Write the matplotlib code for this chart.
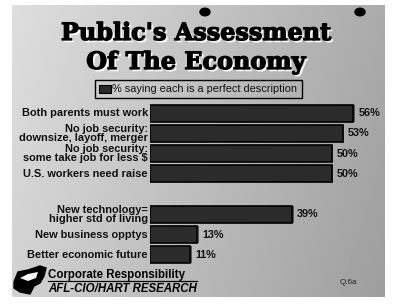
import numpy as np
import matplotlib
matplotlib.use("Agg")
import matplotlib.pyplot as plt
import matplotlib.patheffects as pe
from matplotlib.patches import Rectangle, Polygon

# data
categories = ["Both parents must work",
              "No job security:\ndownsize, layoff, merger",
              "No job security:\nsome take job for less $",
              "U.S. workers need raise",
              "New technology=\nhigher std of living",
              "New business opptys",
              "Better economic future"]
values = [56, 53, 50, 50, 39, 13, 11]
positions = [0, 1, 2, 3, 5, 6, 7]
value_labels = ["56%", "53%", "50%", "50%", "39%", "13%", "11%"]

W, H = 400, 304
fig = plt.figure(figsize=(W / 100, H / 100), dpi=100)
fig.patch.set_facecolor("white")

# gray panel with gradient
bg = fig.add_axes([12 / W, 1 - 297 / H, (385 - 12) / W, (297 - 5) / H])
gx = np.linspace(0, 1, 200)
gy = np.linspace(0, 1, 150)
GX, GY = np.meshgrid(gx, gy)
shade = 0.87 - 0.2 * GX - 0.05 * GY
bg.imshow(shade, cmap="gray", vmin=0, vmax=1, aspect="auto", extent=[0, 1, 1, 0])
bg.set_axis_off()

# hole punches
fig.patches.append(plt.Circle((205 / W, 1 - 12 / H), 5 / W, transform=fig.transFigure,
                              color="black", zorder=5))
fig.patches.append(plt.Circle((360 / W, 1 - 12 / H), 5 / W, transform=fig.transFigure,
                              color="black", zorder=5))

# title, heavy with a white drop shadow
shadow = [pe.SimplePatchShadow(offset=(1.6, -1.6), shadow_rgbFace="white", alpha=1.0),
          pe.withStroke(linewidth=0.9, foreground="black")]
fig.text(196 / W, 1 - 33 / H, "Public's Assessment", ha="center", va="center",
         fontsize=17.2, fontweight="bold", family="DejaVu Serif", path_effects=shadow)
fig.text(196 / W, 1 - 62 / H, "Of The Economy", ha="center", va="center",
         fontsize=17.2, fontweight="bold", family="DejaVu Serif", path_effects=shadow)

# legend box
fig.patches.append(Rectangle((95 / W, 1 - 98 / H), (302 - 95) / W, 18 / H,
                             transform=fig.transFigure, facecolor="none",
                             edgecolor="black", linewidth=1))
fig.patches.append(Rectangle((99 / W, 1 - 93 / H), 12 / W, 8 / H,
                             transform=fig.transFigure, facecolor="#2a2a2a",
                             edgecolor="black", linewidth=0.8))
fig.text(112 / W, 1 - 89 / H, "% saying each is a perfect description", ha="left",
         va="center", fontsize=7.9, family="Liberation Sans", color="#111111")

# bars
ax = fig.add_axes([150 / W, 1 - 265.1 / H, (368 - 150) / W, (265.1 - 102.9) / H])
ax.set_xlim(0, 60)
ax.set_ylim(7.5, -0.5)
ax.set_facecolor("none")
for s in ax.spines.values():
    s.set_visible(False)
ax.set_xticks([])
ax.set_yticks([])

# bevel/shadow behind bars
ax.barh(positions, values, height=0.84, left=0.5, color="#555555", edgecolor="none")
ax.barh(positions, values, height=0.84, color="#2b2b2b", edgecolor="black", linewidth=1.2)

for p, v, lab, cat in zip(positions, values, value_labels, categories):
    ax.text(v + 1.5, p, lab, ha="left", va="center", fontsize=7.8,
            fontweight="bold", family="Liberation Sans", color="#111111")
    ax.text(-0.6, p, cat, ha="right", va="center", fontsize=7.9, fontweight="bold",
            family="Liberation Sans", color="#111111", linespacing=0.82)

# footer logo (rough map silhouette)
logo = [(14, 282), (18, 272), (28, 270), (40, 266), (46, 268), (44, 276), (40, 283),
        (34, 286), (30, 294), (20, 292), (14, 288)]
fig.patches.append(Polygon([(x / W, 1 - y / H) for x, y in logo], closed=True,
                           transform=fig.transFigure, facecolor="black", edgecolor="black"))
fig.patches.append(Polygon([(x / W, 1 - y / H) for x, y in
                            [(20, 278), (28, 274), (38, 272), (36, 278), (28, 281)]],
                           closed=True, transform=fig.transFigure, facecolor="white",
                           edgecolor="none"))

fig.text(48 / W, 1 - 275 / H, "Corporate Responsibility", ha="left", va="center",
         fontsize=8.3, fontweight="bold", family="Liberation Sans")
fig.add_artist(plt.Line2D([48 / W, 197 / W], [1 - 281 / H, 1 - 281 / H], color="black",
                          linewidth=0.9))
fig.text(48 / W, 1 - 288.5 / H, "AFL-CIO/HART RESEARCH", ha="left", va="center",
         fontsize=8.3, fontweight="bold", style="italic", family="Liberation Sans")
fig.text(340 / W, 1 - 283 / H, "Q.6a", ha="left", va="center", fontsize=5.8,
         family="Liberation Sans", color="#222222")

fig.savefig("out.png", dpi=100)
